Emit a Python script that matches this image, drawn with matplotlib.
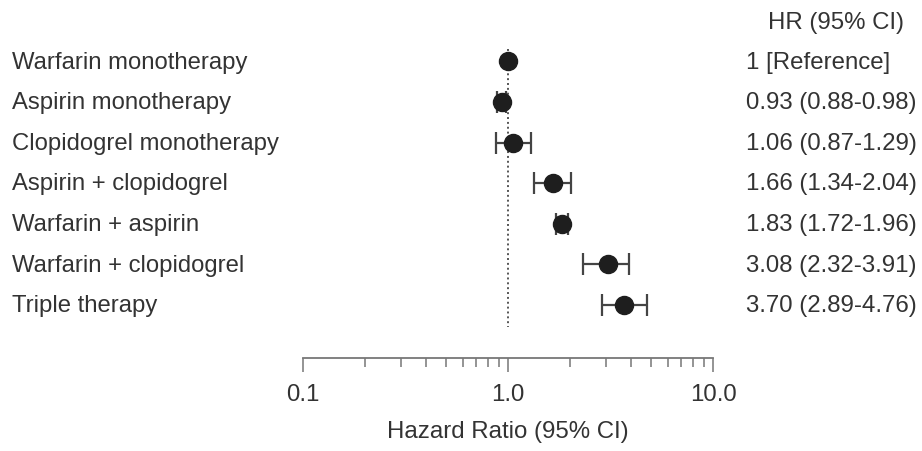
import numpy as np
import matplotlib
matplotlib.use("Agg")
import matplotlib.pyplot as plt
from matplotlib.transforms import blended_transform_factory

plt.rcParams['font.family'] = ['Liberation Sans', 'DejaVu Sans']

# data
labels = ['Warfarin monotherapy', 'Aspirin monotherapy', 'Clopidogrel monotherapy',
          'Aspirin + clopidogrel', 'Warfarin + aspirin', 'Warfarin + clopidogrel',
          'Triple therapy']
hr = [1.0, 0.93, 1.06, 1.66, 1.83, 3.08, 3.70]
lo = [1.0, 0.88, 0.87, 1.34, 1.72, 2.32, 2.89]
hi = [1.0, 0.98, 1.29, 2.04, 1.96, 3.91, 4.76]
hr_text = ['1 [Reference]', '0.93 (0.88-0.98)', '1.06 (0.87-1.29)', '1.66 (1.34-2.04)',
           '1.83 (1.72-1.96)', '3.08 (2.32-3.91)', '3.70 (2.89-4.76)']

txt_col = '#333333'
fs = 17.2      # row labels
fs_hr = 17.3   # HR column, tick labels, axis label

fig = plt.figure(figsize=(9.22, 4.52), dpi=100)
ax = fig.add_axes([303 / 922, 93 / 452, 410 / 922, 359 / 452])

ypos = np.arange(len(labels))
hr = np.array(hr)
err = np.array([hr - np.array(lo), np.array(hi) - hr])

# reference line at HR = 1
ax.plot([1, 1], [-0.31, 6.56], ls=(0, (1, 1.5)), color='#555555', lw=1.4, zorder=1)
for i in range(len(labels)):
    if i == 0:
        ax.plot(hr[i], ypos[i], 'o', color='#1e1e1e', ms=13, zorder=3)
        continue
    ax.errorbar(hr[i], ypos[i], xerr=err[:, i:i + 1], fmt='o', color='#1e1e1e',
                ecolor='#444444', elinewidth=1.6, capsize=8, capthick=1.6, ms=13, zorder=3)

ax.set_xscale('log')
ax.set_xlim(0.1, 10)
ax.set_ylim(7.32, -1.543)
ax.set_yticks([])
for s in ['top', 'right', 'left']:
    ax.spines[s].set_visible(False)
ax.spines['bottom'].set_color('#777777')
ax.spines['bottom'].set_linewidth(1.3)
ax.set_xticks([0.1, 1, 10])
ax.set_xticklabels(['0.1', '1.0', '10.0'])
ax.xaxis.set_minor_locator(matplotlib.ticker.LogLocator(base=10, subs=np.arange(2, 10)))
ax.xaxis.set_minor_formatter(matplotlib.ticker.NullFormatter())
ax.tick_params(axis='x', which='major', length=10, width=1.1, color='#777777',
               labelsize=fs_hr, labelcolor=txt_col, pad=8)
ax.tick_params(axis='x', which='minor', length=6.5, width=1.1, color='#777777')
ax.set_xlabel('Hazard Ratio (95% CI)', fontsize=fs_hr, color=txt_col, labelpad=11)

tr = blended_transform_factory(fig.transFigure, ax.transData)
dy = -0.05  # small nudge so text sits level with the markers
for i in range(len(labels)):
    ax.text(12 / 922, ypos[i] + dy, labels[i], transform=tr, fontsize=fs, color=txt_col,
            ha='left', va='center_baseline')
    ax.text(746 / 922, ypos[i] + dy, hr_text[i], transform=tr, fontsize=fs_hr, color=txt_col,
            ha='left', va='center_baseline')
ax.text(768 / 922, -0.975 + dy, 'HR (95% CI)', transform=tr, fontsize=fs_hr, color=txt_col,
        ha='left', va='center_baseline')

fig.savefig('out.png', dpi=100)
